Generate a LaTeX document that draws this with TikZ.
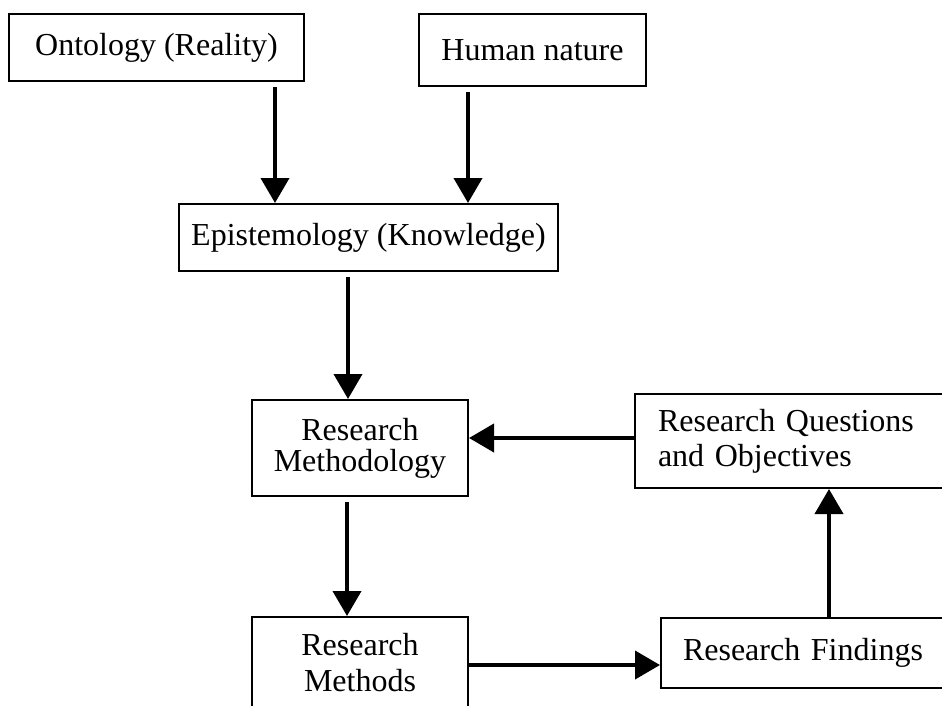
\documentclass[tikz,border=0pt]{standalone}
\usepackage{fontspec}
\setmainfont{Liberation Serif}
\usetikzlibrary{arrows.meta}
\begin{document}
\begin{tikzpicture}[x=0.5pt,y=-0.5pt,
  box/.style={draw,line width=1pt,anchor=north west,inner sep=0pt,align=center,
    font=\fontsize{16}{16}\selectfont},
  link/.style={line width=2pt,-{Triangle[length=12.5pt,width=14pt]}},
  gap/.style={shorten <=2.5pt}]
\useasboundingbox (0,0) rectangle (942,706);

% boxes (positions given by their top-left corners)
\node[box,minimum width=147.5pt,minimum height=33.5pt] (onto) at (8,13) {Ontology (Reality)};
\node[box,minimum width=113.5pt,minimum height=36pt] (human) at (418,13) {Human nature};
\node[box,minimum width=189.5pt,minimum height=33.5pt] (epi) at (178,203) {Epistemology (Knowledge)};
\node[box,minimum width=108pt,minimum height=48pt,
  font=\fontsize{16}{15.5}\selectfont] (meth) at (251,399) {Research\\Methodology};
\node[box,minimum width=160.5pt,minimum height=47pt,align=left,inner xsep=11.5pt,
  text width=137.5pt,font=\fontsize{16}{17.5}\selectfont] (rq) at (634,393)
  {Research Questions\\and Objectives};
\node[box,minimum width=108pt,minimum height=46pt,
  font=\fontsize{16}{18}\selectfont] (methods) at (251,616) {Research\\Methods};
\node[box,minimum width=147.5pt,minimum height=35pt,align=left,inner xsep=11pt,
  text width=125.5pt] (find) at (660,617) {Research Findings};

% connectors
\draw[link,gap] (onto.south -| 275,0) -- (epi.north -| 275,0);
\draw[link,gap] (human.south -| 468,0) -- (epi.north -| 468,0);
\draw[link,gap] (epi.south -| 348,0) -- (meth.north -| 348,0);
\draw[link] (rq.west |- 0,438) -- (meth.east |- 0,438);
\draw[link,gap] (meth.south -| 347,0) -- (methods.north -| 347,0);
\draw[link] (methods.east |- 0,665) -- (find.west |- 0,665);
\draw[link] (find.north -| 829,0) -- (rq.south -| 829,0);
\end{tikzpicture}
\end{document}
